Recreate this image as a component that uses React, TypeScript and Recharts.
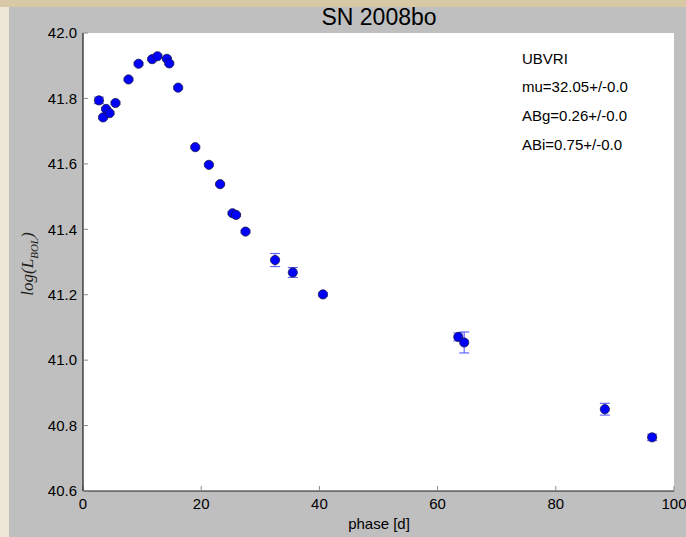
import React from 'react';
import { ScatterChart, Scatter, XAxis, YAxis, CartesianGrid, ErrorBar } from 'recharts';

// phase [d]
const phase = [2.7, 3.4, 3.9, 4.5, 5.5, 7.7, 9.4, 11.7, 12.6, 14.2, 14.6, 16.1, 19.0, 21.3, 23.2, 25.3, 25.9, 27.5, 32.5, 35.5, 40.6, 63.5, 64.5, 88.3, 96.3];
// log(L_BOL)
const logL = [41.794, 41.742, 41.768, 41.755, 41.786, 41.858, 41.906, 41.92, 41.929, 41.921, 41.907, 41.833, 41.651, 41.597, 41.538, 41.449, 41.444, 41.393, 41.306, 41.268, 41.201, 41.071, 41.054, 40.85, 40.764];
const logLErr = [0.01, 0.004, 0.004, 0.004, 0.004, 0.004, 0.004, 0.004, 0.004, 0.004, 0.004, 0.004, 0.004, 0.004, 0.004, 0.004, 0.004, 0.004, 0.02, 0.015, 0.005, 0.012, 0.032, 0.018, 0.01];

const xTicks = [0, 20, 40, 60, 80, 100];
const yTicks = [40.6, 40.8, 41.0, 41.2, 41.4, 41.6, 41.8, 42.0];
const notes = ['UBVRI', 'mu=32.05+/-0.0', 'ABg=0.26+/-0.0', 'ABi=0.75+/-0.0'];

const data = phase.map((p, i) => ({ phase: p, logL: logL[i], err: logLErr[i] }));

const font = '"Liberation Sans", Arial, Helvetica, sans-serif';
const tickStyle = { fill: '#000', fontSize: 15, fontFamily: font };
const axisLine = { stroke: '#1a1a1a', strokeWidth: 1.2 };
const tickLine = { stroke: '#8a8a8a' };

const Dot = (props: any) => (
  <circle cx={props.cx} cy={props.cy} r={4.6} fill="#0000ff" stroke="#1a1a40" strokeWidth={0.8} />
);
const NoDot = () => <g />;

export default function App() {
  return (
    <div style={{ position: 'absolute', left: 0, top: 0, width: 686, height: 537, background: '#eee6d6', overflow: 'hidden' }}>
      <div style={{ position: 'absolute', left: 0, top: 0, width: 686, height: 7, background: '#d9c8a6' }} />
      <div style={{ position: 'absolute', left: 9, top: 7, width: 677, height: 530, background: '#bfbfbf', fontFamily: font }}>
        <ScatterChart width={677} height={530} margin={{ top: 26, right: 12, left: 0, bottom: 0 }}>
          <CartesianGrid fill="#ffffff" horizontal={false} vertical={false} />
          <XAxis
            dataKey="phase"
            type="number"
            domain={[0, 100]}
            ticks={xTicks}
            allowDataOverflow
            height={46}
            tick={tickStyle}
            tickSize={-5}
            tickMargin={12}
            axisLine={axisLine}
            tickLine={tickLine}
            interval={0}
          />
          <XAxis
            xAxisId="top"
            orientation="top"
            type="number"
            domain={[0, 100]}
            ticks={xTicks}
            allowDataOverflow
            height={0}
            tickSize={-5}
            tickFormatter={() => ''}
            axisLine={axisLine}
            tickLine={tickLine}
            interval={0}
          />
          <YAxis
            dataKey="logL"
            type="number"
            domain={[40.6, 42.0]}
            ticks={yTicks}
            allowDataOverflow
            width={74}
            tick={tickStyle}
            tickSize={-5}
            tickMargin={11}
            tickFormatter={(v: number) => v.toFixed(1)}
            axisLine={axisLine}
            tickLine={tickLine}
            interval={0}
          />
          <YAxis
            yAxisId="right"
            orientation="right"
            type="number"
            domain={[40.6, 42.0]}
            ticks={yTicks}
            allowDataOverflow
            width={0}
            tickSize={-5}
            tickFormatter={() => ''}
            axisLine={axisLine}
            tickLine={tickLine}
            interval={0}
          />
          {/* error bars first so the markers sit on top */}
          <Scatter data={data} shape={NoDot} isAnimationActive={false}>
            <ErrorBar dataKey="err" direction="y" width={5} stroke="#5c5cff" strokeWidth={1.1} zIndex={0} />
          </Scatter>
          <Scatter data={data} shape={Dot} isAnimationActive={false} zIndex={700} />
        </ScatterChart>

        <div style={{ position: 'absolute', left: 370, top: -3, transform: 'translateX(-50%)', fontSize: 23, lineHeight: '27px', color: '#000', whiteSpace: 'nowrap' }}>
          SN 2008bo
        </div>
        {notes.map((t, i) => (
          <div key={t} style={{ position: 'absolute', left: 513, top: 42.5 + i * 28.7, fontSize: 15, lineHeight: '18px', color: '#000', whiteSpace: 'nowrap' }}>
            {t}
          </div>
        ))}
        <div style={{ position: 'absolute', left: 370, top: 508, transform: 'translateX(-50%)', fontSize: 15, lineHeight: '18px', color: '#000', whiteSpace: 'nowrap' }}>
          phase [d]
        </div>
        <div style={{ position: 'absolute', left: 20, top: 257, transform: 'translate(-50%, -50%) rotate(-90deg)', fontFamily: '"Liberation Serif", "DejaVu Serif", serif', fontStyle: 'italic', fontSize: 17, color: '#222', whiteSpace: 'nowrap' }}>
          log(L<sub style={{ fontSize: 11 }}>BOL</sub>)
        </div>
      </div>
    </div>
  );
}
